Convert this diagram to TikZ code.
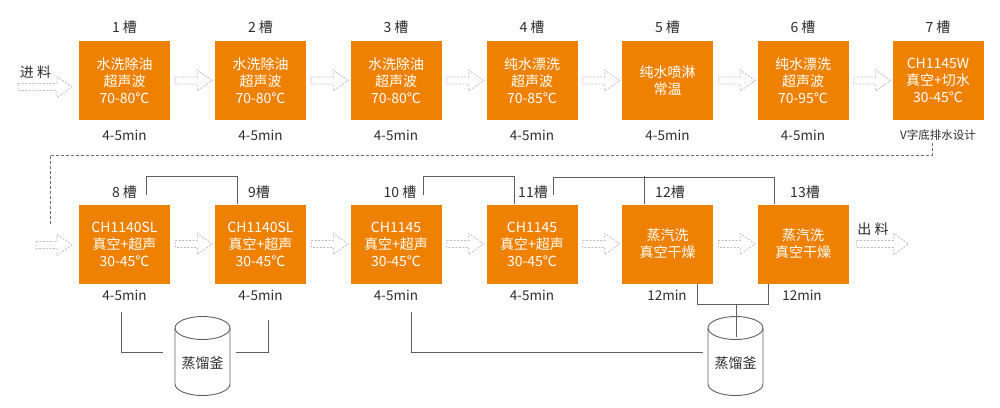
\documentclass[tikz,border=0pt]{standalone}
\usepackage{fontspec}
\setmainfont{Noto Sans CJK SC}
\usetikzlibrary{calc}
\definecolor{boxorange}{RGB}{238,129,0}
\definecolor{textgray}{RGB}{45,45,45}
\definecolor{pipegray}{RGB}{95,95,95}
\definecolor{feedgray}{RGB}{110,110,110}
\definecolor{arrowgray}{RGB}{190,190,190}
\begin{document}
\begin{tikzpicture}[x=1pt,y=-1pt,
  tank/.style={fill=boxorange, draw=none, minimum width=91pt, minimum height=79pt, inner sep=0pt, text=white, align=center, font=\fontsize{14}{17}\selectfont},
  slot/.style={text=textgray, font=\fontsize{14}{16}\selectfont, inner sep=0pt},
  mintime/.style={text=textgray, font=\fontsize{13.5}{15}\selectfont, inner sep=0pt},
  pipe/.style={draw=pipegray, line width=0.9pt},
  feed/.style={draw=feedgray, line width=0.9pt, dash pattern=on 3pt off 2pt},
  arrowline/.style={draw=arrowgray, line width=0.8pt, dash pattern=on 2pt off 1.5pt},
  pics/harrow/.style={code={\draw[arrowline] (0,-3.5) -- ({#1-15},-3.5) -- ({#1-15},-10.5) -- (#1,0) -- ({#1-15},10.5) -- ({#1-15},3.5) -- (0,3.5) -- cycle;}}
]
\useasboundingbox (0,0) rectangle (1000,407);

% row 1
\node[tank] (b1) at (124.5,80.5) {水洗除油\\超声波\\70-80℃};
\node[tank] (b2) at (260.5,80.5) {水洗除油\\超声波\\70-80℃};
\node[tank] (b3) at (396,80.5) {水洗除油\\超声波\\70-80℃};
\node[tank] (b4) at (532,80.5) {纯水漂洗\\超声波\\70-85℃};
\node[tank] (b5) at (667.5,80.5) {纯水喷淋\\常温};
\node[tank] (b6) at (803,80.5) {纯水漂洗\\超声波\\70-95℃};
\node[tank] (b7) at (938,80.5) {CH1145W\\真空+切水\\30-45℃};

\node[slot] (l1) at (124.5,27) {1 槽};
\node[slot] (l2) at (260.5,27) {2 槽};
\node[slot] (l3) at (396,27) {3 槽};
\node[slot] (l4) at (532,27) {4 槽};
\node[slot] (l5) at (667.5,27) {5 槽};
\node[slot] (l6) at (803,27) {6 槽};
\node[slot] (l7) at (938,27) {7 槽};

\node[mintime] (t1) at (124.5,135) {4-5min};
\node[mintime] (t2) at (260.5,135) {4-5min};
\node[mintime] (t3) at (396,135) {4-5min};
\node[mintime] (t4) at (532,135) {4-5min};
\node[mintime] (t5) at (667.5,135) {4-5min};
\node[mintime] (t6) at (803,135) {4-5min};
\node[text=textgray, font=\fontsize{11.5}{14}\selectfont, inner sep=0pt] (t7) at (938,135) {V字底排水设计};

\node[slot] (in) at (35.5,72) {进 料};
\pic at (18,87) {harrow=54};
\foreach \i in {1,...,6} {\pic at ($(b\i.east)+(5,0)$) {harrow=37};}

% dashed feed line from 7 to 8
\coordinate (f0) at (932,143);
\coordinate (f1) at (50,224);
\draw[feed] (f0) -- ++(0,12) -| (f1);

% row 2
\node[tank] (b8) at (124.5,244) {CH1140SL\\真空+超声\\30-45℃};
\node[tank] (b9) at (260.5,244) {CH1140SL\\真空+超声\\30-45℃};
\node[tank] (b10) at (396,244) {CH1145\\真空+超声\\30-45℃};
\node[tank] (b11) at (532,244) {CH1145\\真空+超声\\30-45℃};
\node[tank] (b12) at (667.5,244) {蒸汽洗\\真空干燥};
\node[tank] (b13) at (803,244) {蒸汽洗\\真空干燥};

\node[slot] (l8) at (124.5,192) {8 槽};
\node[slot] (l9) at (259,192) {9槽};
\node[slot] (l10) at (400,192) {10 槽};
\node[slot] (l11) at (533,192) {11槽};
\node[slot] (l12) at (670,192) {12槽};
\node[slot] (l13) at (805,192) {13槽};

\node[mintime] (t8) at (124.5,295) {4-5min};
\node[mintime] (t9) at (260.5,295) {4-5min};
\node[mintime] (t10) at (396,295) {4-5min};
\node[mintime] (t11) at (532,295) {4-5min};
\node[mintime] (t12) at (667,295) {12min};
\node[mintime] (t13) at (802,295) {12min};

\pic at (36,245) {harrow=36};
\foreach \i in {8,...,12} {\pic at ($(b\i.east)+(5,0)$) {harrow=37};}
\pic at ($(b13.east)+(8,0)$) {harrow=52};
\node[slot] (out) at (873,229) {出 料};

% top pipes
\coordinate (p8) at (146,195);
\draw[pipe] (p8) -- ++(0,-19) -| ([xshift=-23.5]b9.north);
\coordinate (p10) at (423,195);
\draw[pipe] (p10) -- ++(0,-19) -| ([xshift=-18]b11.north);
\coordinate (p11) at (553,195);
\draw[pipe] (p11) -- ++(0,-18) -| ([xshift=-29]b13.north);
\draw[pipe] ([xshift=-23.5]b12.north) -- ++(0,-28);

% bottom pipes
\coordinate (q8) at (121,312); \coordinate (e8) at (163,352);
\draw[pipe] (q8) |- (e8);
\coordinate (q9) at (268,320); \coordinate (e9) at (236,352);
\draw[pipe] (q9) |- (e9);
\coordinate (q10) at (411,312); \coordinate (e10) at (703,352);
\draw[pipe] (q10) |- (e10);
\draw[pipe] ([xshift=29.5]b12.south) -- ++(0,21) -| ([xshift=-35]b13.south);
\coordinate (v0) at (736,304.5); \coordinate (v1) at (736,337);
\draw[pipe] (v0) -- (v1);

% stills
\foreach \cx/\nm in {202.5/k1, 735.5/k2} {
  \draw[pipe] (\cx-27.5,328) -- (\cx-27.5,384) arc[start angle=180, end angle=0, x radius=27.5, y radius=11.5] -- (\cx+27.5,328);
  \draw[pipe] (\cx,328) ellipse[x radius=27.5, y radius=11.5];
  \node[slot] (\nm) at (\cx,363) {蒸馏釜};
}
\end{tikzpicture}
\end{document}
